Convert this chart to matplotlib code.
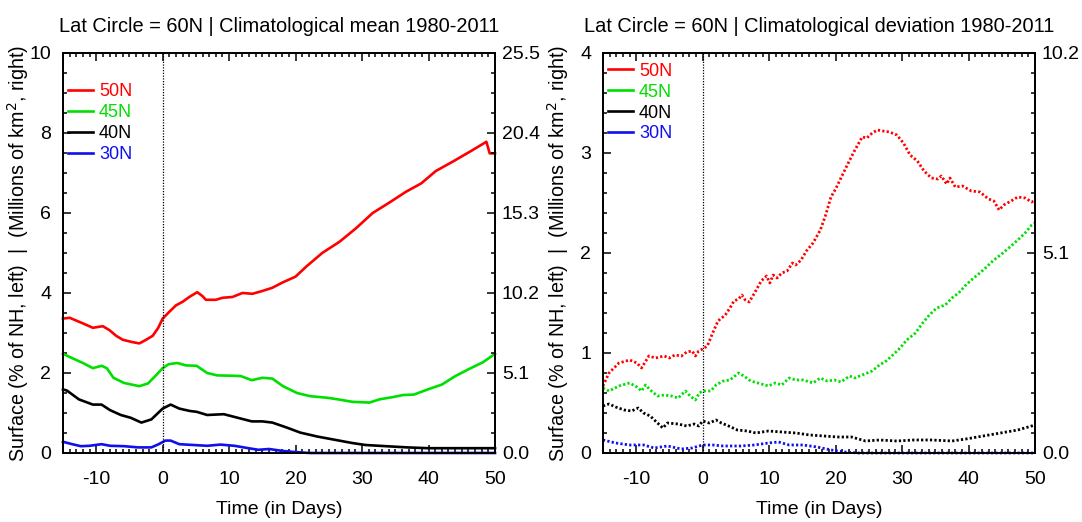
import matplotlib
matplotlib.use("Agg")
import matplotlib.pyplot as plt
from matplotlib.lines import Line2D
from matplotlib.ticker import FixedLocator, MultipleLocator, FormatStrFormatter

plt.rcParams['font.family'] = ['Liberation Sans', 'DejaVu Sans']
plt.rcParams['font.size'] = 14
plt.rcParams['axes.unicode_minus'] = False

# ---- left panel: climatological mean (solid lines) ----
mean_days_50 = [-15, -14, -12, -10.5, -9, -8, -7, -6, -4.5, -3.5, -2.5, -1.5, -0.7, 0, 1, 2, 3, 4,
                5.2, 6, 6.5, 8, 9, 10.5, 12, 13.5, 15, 16.5, 18, 20, 21.6, 24, 26.6, 29.1, 31.6,
                34.1, 36.6, 38.9, 41.1, 43.6, 46.6, 48.7, 49.2, 50]
mean_50N = [3.36, 3.38, 3.24, 3.13, 3.17, 3.07, 2.93, 2.83, 2.77, 2.74, 2.83, 2.93, 3.12, 3.36, 3.53,
            3.69, 3.78, 3.9, 4.02, 3.92, 3.83, 3.83, 3.88, 3.9, 4.0, 3.98, 4.05, 4.13, 4.26, 4.41,
            4.66, 5.0, 5.28, 5.62, 6.0, 6.26, 6.53, 6.74, 7.05, 7.28, 7.57, 7.78, 7.49, 7.49]

mean_days_45 = [-15, -13.6, -12, -10.5, -9.2, -8.4, -7.4, -5.8, -3.5, -2.2, -0.9, 0, 0.9, 2.2, 3.5,
                5.1, 6.7, 8.2, 10.8, 11.8, 13.4, 15, 16.5, 18.1, 20.2, 22.2, 24.8, 26.4, 28.5, 31.1,
                32.6, 34.7, 36.2, 37.8, 39.9, 42, 44, 46.1, 48.2, 50]
mean_45N = [2.48, 2.37, 2.25, 2.12, 2.18, 2.12, 1.88, 1.75, 1.67, 1.74, 1.96, 2.12, 2.22, 2.25, 2.19,
            2.18, 2.0, 1.94, 1.93, 1.92, 1.82, 1.88, 1.86, 1.67, 1.5, 1.42, 1.38, 1.34, 1.28, 1.26,
            1.34, 1.40, 1.45, 1.46, 1.59, 1.71, 1.92, 2.1, 2.27, 2.48]

mean_days_40 = [-15, -14.4, -12.6, -10.5, -9.2, -7.9, -6.3, -4.8, -3.2, -1.7, 0, 1.2, 2.5, 4.1, 5.1,
                6.7, 9.2, 11.3, 13.4, 15, 16.5, 18.6, 20.7, 23.3, 25.9, 28.5, 30.5, 33.6, 36.8,
                39.9, 50]
mean_40N = [1.59, 1.56, 1.34, 1.21, 1.21, 1.07, 0.95, 0.88, 0.76, 0.84, 1.11, 1.21, 1.11, 1.05, 1.03,
            0.95, 0.97, 0.88, 0.79, 0.79, 0.76, 0.64, 0.51, 0.41, 0.33, 0.25, 0.20, 0.17, 0.14,
            0.12, 0.12]

mean_days_30 = [-15, -13.6, -12.3, -11, -9.2, -7.9, -5.8, -3.7, -1.7, -0.6, 0.4, 1.2, 2.5, 4.6, 6.7,
                8.7, 10.8, 12.9, 14.4, 16, 18.1, 20.2, 22.2, 50]
mean_30N = [0.28, 0.22, 0.17, 0.18, 0.22, 0.18, 0.17, 0.14, 0.14, 0.22, 0.31, 0.31, 0.22, 0.2, 0.18,
            0.21, 0.18, 0.12, 0.08, 0.10, 0.05, 0.02, 0.0, 0.0]

# ---- right panel: climatological deviation (dotted lines) ----
dev_days_50 = [-15, -14.1, -12.6, -11, -9.9, -9.2, -8.1, -7.1, -5.8, -5, -4.2, -3.2, -2.4, -1.6, -1.1,
               -0.6, 0, 0.7, 1.5, 2.3, 3.4, 4.1, 4.7, 5.4, 5.9, 6.4, 7, 7.8, 8.8, 9.6, 10.1, 10.6,
               11.2, 11.9, 12.7, 13.5, 14, 14.8, 15.6, 16.6, 17.7, 18.5, 19.3, 20, 20.8, 21.9, 22.9,
               24, 24.7, 25.5, 26.3, 27.1, 28.1, 29.2, 30.2, 31.2, 32.3, 33.3, 34.4, 35.4, 35.9,
               36.7, 37.2, 38, 39.1, 40.4, 41.7, 43, 43.8, 44.6, 45.3, 46.4, 47.4, 48.5, 49.5, 50]
dev_50N = [0.67, 0.8, 0.9, 0.93, 0.9, 0.85, 0.97, 0.95, 0.97, 0.95, 0.98, 0.97, 1.01, 1.02, 0.97,
           1.02, 1.04, 1.07, 1.2, 1.32, 1.38, 1.45, 1.52, 1.54, 1.58, 1.53, 1.51, 1.6, 1.72, 1.77,
           1.7, 1.78, 1.75, 1.8, 1.82, 1.9, 1.88, 1.93, 2.02, 2.1, 2.23, 2.38, 2.56, 2.64, 2.75, 2.9,
           3.03, 3.16, 3.15, 3.2, 3.23, 3.22, 3.21, 3.18, 3.1, 2.98, 2.92, 2.82, 2.75, 2.74, 2.77,
           2.69, 2.75, 2.66, 2.67, 2.62, 2.61, 2.54, 2.52, 2.43, 2.48, 2.52, 2.56, 2.55, 2.51, 2.53]

dev_days_45 = [-15, -14.1, -12.6, -11, -9.9, -9.2, -8.6, -7.9, -6.8, -5.8, -4.7, -3.7, -2.6, -1.9,
               -1.1, -0.5, 0, 1.2, 2, 3.1, 4.1, 5.4, 6.2, 7.2, 8.3, 9.9, 10.9, 11.9, 13, 14, 15.1,
               16.6, 17.7, 18.7, 19.8, 20.8, 22.1, 22.9, 24, 25.5, 26.6, 27.6, 28.6, 29.7, 30.7, 32,
               33.1, 34.1, 35.2, 36.5, 37.5, 38.5, 39.6, 40.6, 41.7, 42.7, 43.8, 44.8, 46.4, 47.4,
               48.5, 49.5, 50]
dev_45N = [0.65, 0.62, 0.67, 0.7, 0.66, 0.62, 0.68, 0.63, 0.57, 0.58, 0.57, 0.55, 0.62, 0.57, 0.53,
           0.6, 0.62, 0.62, 0.68, 0.72, 0.73, 0.8, 0.77, 0.72, 0.7, 0.67, 0.7, 0.68, 0.75, 0.73,
           0.73, 0.7, 0.75, 0.72, 0.73, 0.71, 0.77, 0.75, 0.78, 0.82, 0.88, 0.92, 0.98, 1.05, 1.13,
           1.2, 1.3, 1.38, 1.45, 1.48, 1.55, 1.6, 1.68, 1.74, 1.8, 1.86, 1.93, 1.98, 2.07, 2.13,
           2.2, 2.28, 2.3]

dev_days_40 = [-15, -14.1, -13.1, -11.8, -10.7, -9.7, -8.9, -7.9, -6.8, -6, -5.3, -3.7, -2.4, -1.3,
               -0.6, 0, 1, 2, 2.8, 3.9, 5.2, 6.7, 8, 9.9, 11.9, 14, 16.1, 18.2, 20.3, 22.4, 24.5,
               26.6, 29.2, 31.8, 34.4, 37.5, 39.6, 42.2, 44.8, 47.4, 50]
dev_40N = [0.47, 0.49, 0.46, 0.43, 0.42, 0.45, 0.4, 0.37, 0.3, 0.25, 0.3, 0.29, 0.27, 0.29, 0.27,
           0.32, 0.3, 0.33, 0.3, 0.27, 0.23, 0.22, 0.2, 0.22, 0.21, 0.2, 0.18, 0.17, 0.16, 0.16,
           0.12, 0.13, 0.12, 0.13, 0.13, 0.12, 0.14, 0.17, 0.2, 0.23, 0.28]

dev_days_30 = [-15, -13.1, -11, -8.9, -7.3, -5.3, -3.2, -1.6, 0, 1.5, 3.1, 5.7, 7.8, 9.9, 11.4, 13,
               15.1, 17.2, 19.3, 21.3, 23.4, 50]
dev_30N = [0.13, 0.1, 0.08, 0.08, 0.05, 0.07, 0.04, 0.05, 0.08, 0.08, 0.07, 0.07, 0.08, 0.1, 0.11,
           0.08, 0.08, 0.06, 0.03, 0.01, 0.0, 0.0]

labels = ['50N', '45N', '40N', '30N']
colors = ['#ff0000', '#00e000', '#000000', '#1010ee']

mean_right_ticks = [0.0, 5.1, 10.2, 15.3, 20.4, 25.5]
dev_right_ticks = [0.0, 5.1, 10.2]

ylabel = 'Surface (% of NH, left)  |  (Millions of km$^2$, right)'


def style_axes(ax, ymax, yminor, ax2, rmax, rticks, rminor):
    ax.set_xlim(-15, 50)
    ax.set_ylim(0, ymax)
    ax.xaxis.set_major_locator(MultipleLocator(10))
    ax.xaxis.set_minor_locator(MultipleLocator(1))
    ax.yaxis.set_major_locator(MultipleLocator(2 if ymax == 10 else 1))
    ax.yaxis.set_minor_locator(MultipleLocator(yminor))
    ax.tick_params(which='both', direction='in', top=True, right=False, width=1.1)
    ax.tick_params(which='major', length=5.5, pad=8.5)
    ax.tick_params(which='minor', length=2.8)
    ax.tick_params(axis='x', which='major', pad=13)
    ax2.set_ylim(0, rmax)
    ax2.yaxis.set_major_locator(FixedLocator(rticks))
    ax2.yaxis.set_minor_locator(MultipleLocator(rminor))
    ax2.yaxis.set_major_formatter(FormatStrFormatter('%.1f'))
    ax2.tick_params(which='both', direction='in', width=1.1)
    ax2.tick_params(which='major', length=5.5, pad=5)
    ax2.tick_params(which='minor', length=2.8)
    for a in (ax, ax2):
        for s in a.spines.values():
            s.set_linewidth(1.3)
    ax.axvline(0, color='black', lw=0.9, ls=(0, (1, 1.2)))
    ax.set_xlabel('Time (in Days)', labelpad=9)
    ax.set_ylabel(ylabel, fontsize=14.2)
    ax.yaxis.set_label_coords(-0.074, 0.5)


fig = plt.figure(figsize=(10.82, 5.22), dpi=100)
ax1 = fig.add_axes([0.0582, 0.1322, 0.3993, 0.7663])
ax3 = fig.add_axes([0.5573, 0.1322, 0.3993, 0.7663])
ax1r = ax1.twinx()
ax3r = ax3.twinx()

mean_series = [(mean_days_50, mean_50N), (mean_days_45, mean_45N),
               (mean_days_40, mean_40N), (mean_days_30, mean_30N)]
dev_series = [(dev_days_50, dev_50N), (dev_days_45, dev_45N),
              (dev_days_40, dev_40N), (dev_days_30, dev_30N)]

for (d, v), c in zip(mean_series, colors):
    ax1.plot(d, v, color=c, lw=1.9, clip_on=False)
for (d, v), c in zip(dev_series, colors):
    ax3.plot(d, v, color=c, lw=2.0, ls=(0, (0.8, 0.8)), clip_on=False)

style_axes(ax1, 10, 0.5, ax1r, 25.5, mean_right_ticks, 1.275)
style_axes(ax3, 4, 0.2, ax3r, 10.2, dev_right_ticks, 0.51)

ax1.set_title('Lat Circle = 60N | Climatological mean 1980-2011', fontsize=14.4, pad=15)
ax3.set_title('Lat Circle = 60N | Climatological deviation 1980-2011', fontsize=14.4, pad=15)

handles = [Line2D([], [], color=c, lw=1.9) for c in colors]
for ax, top in ((ax1, 0.925), (ax3, 0.976)):
    ax.legend(handles, labels, loc='upper left', bbox_to_anchor=(0.012, top),
              frameon=False, fontsize=13, labelcolor='linecolor', borderpad=0,
              borderaxespad=0, labelspacing=0.22, handlelength=1.4, handletextpad=0.3)

fig.savefig('out.png', dpi=100)
